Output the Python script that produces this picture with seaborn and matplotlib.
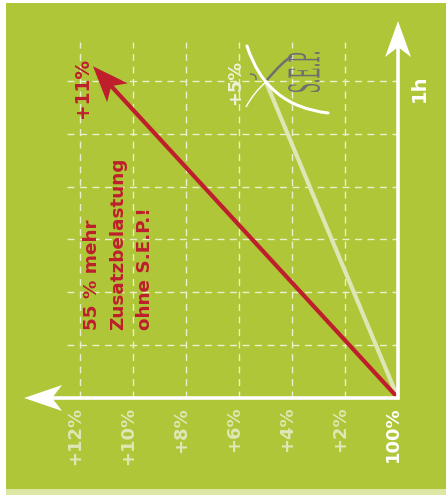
import numpy as np
import pandas as pd
import matplotlib
matplotlib.use("Agg")
import matplotlib.pyplot as plt
import seaborn as sns
from matplotlib.patches import Rectangle, Polygon, PathPatch
from matplotlib.path import Path
from matplotlib.textpath import TextPath
from matplotlib.font_manager import FontProperties
from matplotlib.transforms import Affine2D, IdentityTransform

# ---------------- data ----------------
percent_ticks = [0, 2, 4, 6, 8, 10, 12]
percent_labels = ["100%", "+2%", "+4%", "+6%", "+8%", "+10%", "+12%"]
hour_grid = [1/6, 2/6, 3/6, 4/6, 5/6, 1]
time_h = [0, 1]
load_with_sep = [0, 5]
load_without_sep = [0, 11]
label_with = "+5%"
label_without = "+11%"
time_label = "1h"
note_lines = ["55 % mehr", "Zusatzbelastung", "ohne S.E.P.!"]
logo_text = "S.E.P."

# ---------------- style ----------------
GREEN = "#aec637"
STRIP = "#dde6a4"
RED = "#bf1e2d"
PALE = "#dfe6b6"
GRID = "#eaf0cc"
TICK = "#dfe7b5"
WHITE = "#ffffff"
GREY = "#6e6f71"

sns.set_theme(style="white")
plt.rcParams["font.family"] = ["DejaVu Sans"]

W, H = 446, 495
fig = plt.figure(figsize=(W / 100, H / 100), dpi=100)
fig.patch.set_facecolor("white")
ax = fig.add_axes([0, 0, 1, 1])
ax.set_xlim(15.02, -1.81)
ax.set_ylim(-0.306, 1.2555)
ax.axis("off")
ax.patch.set_visible(False)

# background panels
ax.add_patch(Rectangle((6 / W, 6 / H), 1 - 6 / W, 486 / H, transform=fig.transFigure,
                       facecolor=GREEN, edgecolor="none", zorder=0))
ax.add_patch(Rectangle((6 / W, 0), 1 - 6 / W, 6 / H, transform=fig.transFigure,
                       facecolor=STRIP, edgecolor="none", zorder=0))

# dashed grid
for h in hour_grid:
    ax.plot([12.5, 0], [h, h], ls=(0, (5, 4)), color=GRID, lw=1.0, zorder=1)
for p in percent_ticks[1:]:
    ax.plot([p, p], [0, 1.123], ls=(0, (5, 4)), color=GRID, lw=1.0, zorder=1)

# data lines
df = pd.DataFrame({
    "time": time_h + time_h,
    "load": load_with_sep + load_without_sep,
    "series": ["mit S.E.P."] * 2 + ["ohne S.E.P."] * 2,
})
sns.lineplot(data=df, x="load", y="time", hue="series",
             hue_order=["mit S.E.P.", "ohne S.E.P."],
             palette={"mit S.E.P.": PALE, "ohne S.E.P.": RED},
             lw=3.0, legend=False, sort=False, estimator=None, ax=ax,
             solid_capstyle="butt", zorder=3)


def head(tip, u, L, Wd, N, color, z):
    u = np.asarray(u, float)
    u = u / np.hypot(*u)
    n = np.array([-u[1], u[0]])
    tip = np.asarray(tip, float)
    pts = [tip, tip - L * u + Wd * n, tip - (L - N) * u, tip - L * u - Wd * n]
    ax.add_patch(Polygon(pts, closed=True, transform=IdentityTransform(),
                         facecolor=color, edgecolor="none", zorder=z))


# red arrow head
start = ax.transData.transform((load_without_sep[0], time_h[0]))
end = ax.transData.transform((load_without_sep[-1], time_h[-1]))
u = (end - start) / np.hypot(*(end - start))
head(end + 20 * u, u, 36, 14, 9, RED, 4)

# axes with arrows
top_tip = ax.transData.transform((0, 1.189))
left_tip = ax.transData.transform((14.11, 0))
ax.plot([14.11 - 1.0, 0, 0], [0, 0, 1.189 - 0.08], color=WHITE, lw=2.6,
        solid_joinstyle="miter", solid_capstyle="butt", zorder=5)
head(top_tip, (0, 1), 36, 13, 10, WHITE, 6)
head(left_tip, (-1, 0), 38, 13, 10, WHITE, 6)

# tick labels
for p, lab in zip(percent_ticks, percent_labels):
    ax.text(p, -0.028, lab, rotation=90, rotation_mode="anchor", ha="right",
            va="baseline", fontsize=13, fontweight="bold",
            color=WHITE if p == 0 else TICK, zorder=6)


def pdata(px, py):
    return (398 - px) / 26.5, (398 - py) / 317


# annotations
x, y = pdata(425, 102)
ax.text(x, y, time_label, rotation=90, rotation_mode="anchor", ha="left",
        va="baseline", fontsize=14, fontweight="bold", color=WHITE, zorder=6)
x, y = pdata(88, 118)
ax.text(x, y, label_without, rotation=90, rotation_mode="anchor", ha="left",
        va="baseline", fontsize=13.4, fontweight="bold", color=RED, zorder=6)
x, y = pdata(240, 105)
ax.text(x, y, label_with, rotation=90, rotation_mode="anchor", ha="left",
        va="baseline", fontsize=12.8, fontweight="bold", color="#eef2d6", zorder=6)
for bx, line in zip([97, 123.5, 150], note_lines):
    x, y = pdata(bx, 330)
    ax.text(x, y, line, rotation=90, rotation_mode="anchor", ha="left",
            va="baseline", fontsize=13.2, fontweight="bold", color=RED, zorder=6)

# logo
def disp(px, py):
    return (px, H - py)

sw = Path([disp(247, 46), disp(266, 106), disp(328, 113)],
          [Path.MOVETO, Path.CURVE3, Path.CURVE3])
ax.add_patch(PathPatch(sw, transform=IdentityTransform(), facecolor="none",
                       edgecolor=WHITE, lw=2.2, capstyle="round", zorder=5))
sw2 = Path([disp(246, 107), disp(254, 92), disp(267, 81)],
           [Path.MOVETO, Path.CURVE3, Path.CURVE3])
ax.add_patch(PathPatch(sw2, transform=IdentityTransform(), facecolor="none",
                       edgecolor=WHITE, lw=1.0, zorder=5))
gs = Path([disp(267, 80), disp(282, 62), disp(292, 56)],
          [Path.MOVETO, Path.CURVE3, Path.CURVE3])
ax.add_patch(PathPatch(gs, transform=IdentityTransform(), facecolor="none",
                       edgecolor=GREY, lw=1.8, zorder=5))
curl = Path([disp(250, 74), disp(257, 74), disp(256, 80)],
            [Path.MOVETO, Path.CURVE3, Path.CURVE3])
ax.add_patch(PathPatch(curl, transform=IdentityTransform(), facecolor="none",
                       edgecolor=GREY, lw=1.0, zorder=5))

tp = TextPath((0, 0), logo_text, size=20, prop=FontProperties(family="DejaVu Serif"))
ext = tp.get_extents()
tr = (Affine2D().translate(-ext.x0, -ext.y0)
      .scale(40 / ext.width, 32 / ext.height)
      .rotate_deg(90).translate(320, H - 92))
ax.add_patch(PathPatch(tr.transform_path(tp), transform=IdentityTransform(),
                       facecolor=GREY, edgecolor="none", zorder=5))

fig.savefig("out.png", dpi=100, facecolor=fig.get_facecolor())
